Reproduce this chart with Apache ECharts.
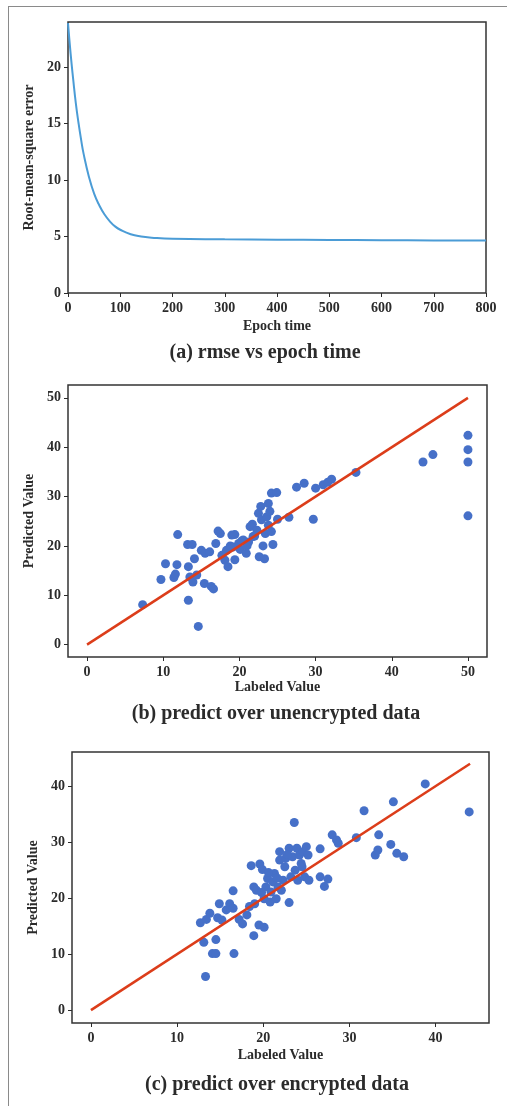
<!DOCTYPE html>
<html>
<head>
<meta charset="utf-8">
<title>rmse and prediction plots</title>
<script src="https://cdn.jsdelivr.net/npm/echarts@6/dist/echarts.min.js"></script>
<style>
  html, body { margin: 0; padding: 0; background: #fff; }
  #frame {
    position: absolute; left: 8px; top: 6px; width: 600px; height: 1200px;
    border: 1.5px solid #8a8a8a; box-sizing: border-box;
  }
  #chart { position: absolute; left: 0; top: 0; width: 507px; height: 1106px; }
</style>
</head>
<body>
<div id="frame"></div>
<div id="chart"></div>
<script>
// (a) rmse vs epoch time
const epochs = [0, 5, 10, 15, 20, 25, 30, 40, 50, 60, 70, 80, 90, 100, 120, 140, 160, 200, 300, 400, 500, 600, 700, 800]
const rmse = [23.9, 21.2, 18.9, 16.8, 15.1, 13.6, 12.3, 10.3, 8.8, 7.75, 6.95, 6.35, 5.9, 5.6, 5.2, 5.0, 4.9, 4.8, 4.75, 4.72, 4.7, 4.68, 4.66, 4.65]

// (b) predict over unencrypted data: [labeled, predicted]
const unencLabeled = [7.3, 9.7, 10.3, 11.4, 11.6, 11.8, 11.9, 13.3, 13.3, 13.2, 13.8, 13.5, 13.9, 14.1, 14.4, 14.6, 15.4, 15.0, 15.5, 16.1,
  16.3, 16.6, 16.9, 17.2, 17.5, 17.7, 18.1, 18.3, 18.5, 19.0, 19.4, 19.4, 19.2, 19.9, 20.1, 20.5, 20.9, 21.2, 21.4, 21.7,
  21.8, 22.3, 22.5, 22.6, 22.8, 22.9, 23.1, 23.3, 23.4, 23.6, 23.8, 24.0, 23.8, 24.2, 24.2, 24.4, 24.9, 25.0, 26.5, 27.5,
  28.5, 29.7, 30.0, 31.0, 31.6, 32.1, 35.3, 44.1, 45.4, 50.0, 50.0, 50.0, 50.0, 18.8, 20.3, 21.0, 22.0]
const unencPredicted = [8.1, 13.2, 16.4, 13.6, 14.3, 16.2, 22.3, 9.0, 15.8, 20.3, 20.3, 13.7, 12.7, 17.4, 14.1, 3.7, 12.4, 19.1, 18.5, 18.8,
  11.8, 11.3, 20.5, 23.0, 22.5, 18.1, 17.1, 19.1, 15.8, 22.2, 22.3, 17.2, 19.8, 20.5, 19.3, 21.2, 18.5, 20.8, 23.9, 24.4,
  21.9, 23.2, 26.6, 17.8, 28.0, 25.3, 20.0, 17.4, 22.5, 25.9, 28.6, 27.0, 24.2, 22.9, 30.7, 20.3, 30.8, 25.4, 25.8, 31.9,
  32.7, 25.4, 31.7, 32.4, 32.9, 33.5, 34.9, 37.0, 38.5, 42.4, 39.5, 37.0, 26.1, 20.0, 21.0, 20.0, 22.0]

// (c) predict over encrypted data: [labeled, predicted]
const encLabeled = [13.3, 13.1, 12.7, 13.4, 13.8, 14.1, 14.5, 14.5, 14.9, 14.7, 15.2, 15.7, 16.1, 16.5, 16.5, 16.6, 17.2, 17.6, 18.1, 18.4,
  18.6, 18.9, 18.9, 19.0, 19.2, 19.5, 19.6, 19.9, 20.1, 20.1, 20.3, 20.5, 20.8, 20.9, 21.1, 21.3, 21.5, 21.7, 21.9, 21.9,
  22.1, 22.3, 22.5, 22.6, 23.0, 23.0, 23.2, 23.4, 23.6, 23.7, 23.9, 24.0, 24.2, 24.4, 24.6, 24.8, 25.0, 25.2, 25.3, 26.6,
  26.6, 27.1, 27.5, 28.0, 28.5, 28.7, 30.8, 31.7, 33.0, 33.3, 33.4, 34.8, 35.1, 35.5, 36.3, 38.8, 43.9, 20.6, 21.6, 22.8, 24.5, 19.8]
const encPredicted = [6.0, 12.1, 15.6, 16.2, 17.3, 10.1, 10.1, 12.6, 19.0, 16.5, 16.1, 17.9, 19.0, 18.2, 21.3, 10.1, 16.2, 15.4, 17.0, 18.5,
  25.8, 13.3, 22.0, 19.0, 21.4, 15.2, 26.1, 25.1, 14.8, 19.9, 22.0, 23.5, 19.3, 21.1, 22.9, 24.4, 19.9, 22.0, 26.8, 28.3,
  21.4, 23.2, 25.6, 27.1, 19.2, 28.9, 23.8, 27.4, 33.5, 25.0, 28.9, 23.2, 27.7, 26.2, 28.3, 23.8, 29.2, 27.7, 23.2, 28.8,
  23.8, 22.1, 23.4, 31.3, 30.4, 29.8, 30.8, 35.6, 27.7, 28.6, 31.3, 29.6, 37.2, 28.0, 27.4, 40.4, 35.4, 24.6, 23.6, 27.8, 25.6, 21.0]

const unencFit = [[0, 0], [50, 50]]
const encFit = [[0, 0], [44, 44]]

// tick labels
const epochTicks = [0, 100, 200, 300, 400, 500, 600, 700, 800]
const rmseTicks = [0, 5, 10, 15, 20]
const unencTicks = [0, 10, 20, 30, 40, 50]
const encTicks = [0, 10, 20, 30, 40]

const SERIF = '"Liberation Serif", "DejaVu Serif", serif'
const INK = '#2b2b2b'

const chart = echarts.init(document.getElementById('chart'), null, { renderer: 'canvas' })

function pairs(xs, ys) {
  return xs.map((x, i) => [x, ys[i]])
}

function makeAxis(grid, min, max, ticks, name, gap, margin) {
  return {
    type: 'value', gridIndex: grid, min: min, max: max,
    name: name, nameLocation: 'middle', nameGap: gap,
    nameTextStyle: { fontFamily: SERIF, fontWeight: 'bold', fontSize: 14, color: INK },
    axisLine: { show: false, onZero: false },
    axisTick: { show: true, length: 4, customValues: ticks, lineStyle: { color: INK } },
    axisLabel: { customValues: ticks, margin: margin, fontFamily: SERIF, fontWeight: 'bold', fontSize: 14, color: INK },
    splitLine: { show: false }
  }
}

const captionStyle = { fontFamily: SERIF, fontWeight: 'bold', fontSize: 20, color: INK }

const option = {
  animation: false,
  title: [
    { text: '(a) rmse vs epoch time', left: 260, top: 338, textAlign: 'center', textStyle: captionStyle },
    { text: '(b) predict over unencrypted data', left: 271, top: 699, textAlign: 'center', textStyle: captionStyle },
    { text: '(c) predict over encrypted data', left: 272, top: 1070, textAlign: 'center', textStyle: captionStyle }
  ],
  grid: [
    { left: 68, top: 22, width: 418, height: 271, show: true, borderColor: '#333', borderWidth: 1.5 },
    { left: 68, top: 385, width: 419, height: 272, show: true, borderColor: '#333', borderWidth: 1.5 },
    { left: 72, top: 752, width: 417, height: 271, show: true, borderColor: '#333', borderWidth: 1.5 }
  ],
  xAxis: [
    makeAxis(0, 0, 800, epochTicks, 'Epoch time', 26, 8),
    makeAxis(1, -2.5, 52.5, unencTicks, 'Labeled Value', 23, 8),
    makeAxis(2, -2.2, 46.2, encTicks, 'Labeled Value', 25, 8)
  ],
  yAxis: [
    makeAxis(0, 0, 24, rmseTicks, 'Root-mean-square error', 29, 7),
    makeAxis(1, -2.5, 52.6, unencTicks, 'Predicted Value', 29, 7),
    makeAxis(2, -2.3, 46.1, encTicks, 'Predicted Value', 30, 7)
  ],
  series: [
    {
      type: 'line', xAxisIndex: 0, yAxisIndex: 0,
      data: pairs(epochs, rmse),
      smooth: true, showSymbol: false,
      lineStyle: { color: '#4b9cd6', width: 2 }
    },
    {
      type: 'scatter', xAxisIndex: 1, yAxisIndex: 1,
      data: pairs(unencLabeled, unencPredicted),
      symbolSize: 9, itemStyle: { color: '#4670c8', opacity: 1 }
    },
    {
      type: 'line', xAxisIndex: 1, yAxisIndex: 1,
      data: unencFit, showSymbol: false,
      lineStyle: { color: '#dc3d1a', width: 2.5 }
    },
    {
      type: 'scatter', xAxisIndex: 2, yAxisIndex: 2,
      data: pairs(encLabeled, encPredicted),
      symbolSize: 9, itemStyle: { color: '#4670c8', opacity: 1 }
    },
    {
      type: 'line', xAxisIndex: 2, yAxisIndex: 2,
      data: encFit, showSymbol: false,
      lineStyle: { color: '#dc3d1a', width: 2.5 }
    }
  ]
}

chart.setOption(option)
</script>
</body>
</html>
